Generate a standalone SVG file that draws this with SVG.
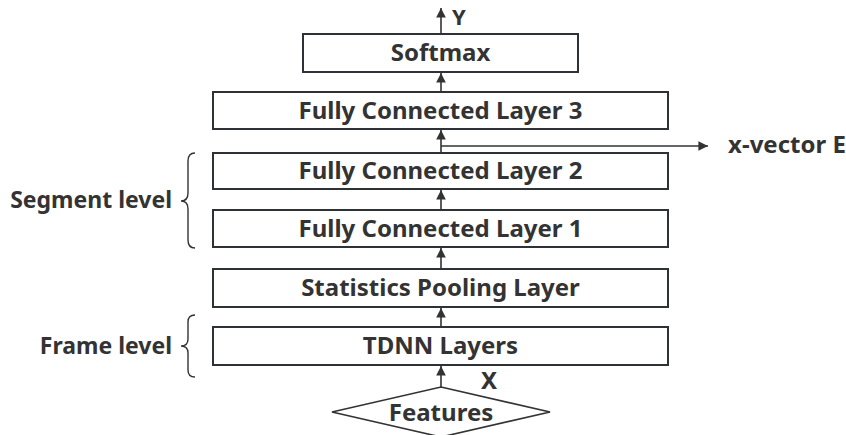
<svg xmlns="http://www.w3.org/2000/svg" width="846" height="435" viewBox="0 0 846 435">
  <style>
    .box { fill: #ffffff; stroke: #2e3236; stroke-width: 2; }
    .lbl { font-family: "Noto Sans", "Open Sans", sans-serif; font-weight: bold; font-size: 24px; fill: #333333; text-anchor: middle; }
    .side { font-family: "Noto Sans", "Open Sans", sans-serif; font-weight: bold; font-size: 23px; fill: #333333; text-anchor: end; }
    .edge { stroke: #333333; stroke-width: 1.6; fill: none; }
    .brace { stroke: #333333; stroke-width: 1.4; fill: none; }
  </style>
  <defs>
    <marker id="arrow" viewBox="0 0 10 10" refX="10" refY="5" markerWidth="6" markerHeight="6" orient="auto" markerUnits="strokeWidth">
      <path d="M0,0 L10,5 L0,10 z" fill="#333333"/>
    </marker>
  </defs>
  <rect width="846" height="435" fill="#ffffff"/>

  <!-- data flow arrows, bottom to top, plus the x-vector tap -->
  <g id="connectors">
    <line class="edge" x1="441" y1="34" x2="441" y2="8" marker-end="url(#arrow)"/>
    <line class="edge" x1="441" y1="92" x2="441" y2="73" marker-end="url(#arrow)"/>
    <line class="edge" x1="441" y1="153" x2="441" y2="130" marker-end="url(#arrow)"/>
    <line class="edge" x1="441" y1="146" x2="708" y2="146" marker-end="url(#arrow)"/>
    <line class="edge" x1="441" y1="210" x2="441" y2="190" marker-end="url(#arrow)"/>
    <line class="edge" x1="441" y1="269" x2="441" y2="248" marker-end="url(#arrow)"/>
    <line class="edge" x1="441" y1="327" x2="441" y2="308" marker-end="url(#arrow)"/>
    <line class="edge" x1="441" y1="387" x2="441" y2="366" marker-end="url(#arrow)"/>
  </g>

  <g id="output-y">
    <text class="lbl" x="459" y="25" style="font-size:22px">Y</text>
  </g>

  <g id="softmax">
    <rect class="box" x="303" y="34" width="275" height="38"/>
    <text class="lbl" x="440.5" y="61">Softmax</text>
  </g>

  <g id="fc3">
    <rect class="box" x="213" y="92" width="455" height="37"/>
    <text class="lbl" x="440.5" y="119">Fully Connected Layer 3</text>
  </g>

  <g id="xvector">
    <text class="lbl" x="787" y="153">x-vector E</text>
  </g>

  <g id="fc2">
    <rect class="box" x="213" y="153" width="455" height="36"/>
    <text class="lbl" x="440.5" y="179">Fully Connected Layer 2</text>
  </g>

  <g id="fc1">
    <rect class="box" x="213" y="210" width="455" height="37"/>
    <text class="lbl" x="440.5" y="237">Fully Connected Layer 1</text>
  </g>

  <g id="stats-pooling">
    <rect class="box" x="213" y="269" width="455" height="38"/>
    <text class="lbl" x="440.5" y="296">Statistics Pooling Layer</text>
  </g>

  <g id="tdnn">
    <rect class="box" x="213" y="327" width="455" height="38"/>
    <text class="lbl" x="440.5" y="354">TDNN Layers</text>
  </g>

  <g id="input-x">
    <text class="lbl" x="489" y="389">X</text>
  </g>

  <g id="features">
    <polygon points="441,387 550,412 441,437 332,412" fill="#ffffff" stroke="#333333" stroke-width="1.6"/>
    <text class="lbl" x="441" y="421">Features</text>
  </g>

  <!-- curly braces grouping the layer stages -->
  <g id="segment-level">
    <path class="brace" d="M195,153 Q188,153 188,161 L188,193 Q188,201 181,201 Q188,201 188,209 L188,240 Q188,248 195,248"/>
    <text class="side" x="172" y="208">Segment level</text>
  </g>

  <g id="frame-level">
    <path class="brace" d="M195,315 Q188,315 188,322 L188,339 Q188,346 181,346 Q188,346 188,353 L188,370 Q188,377 195,377"/>
    <text class="side" x="172" y="354">Frame level</text>
  </g>
</svg>
